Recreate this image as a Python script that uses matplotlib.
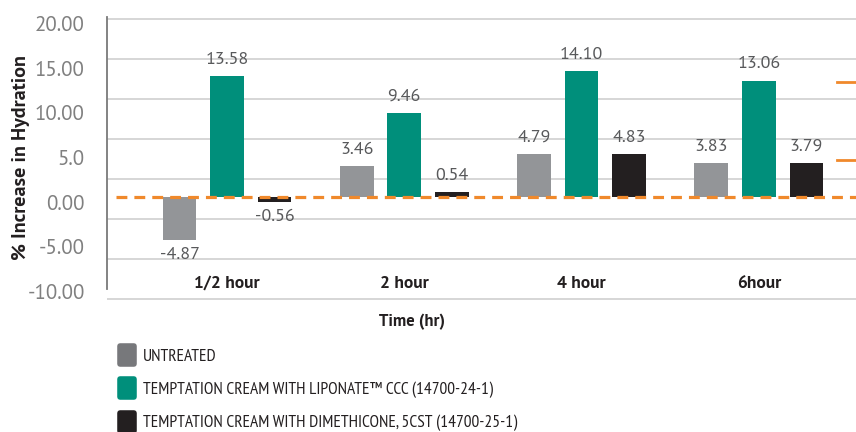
import numpy as np
import matplotlib.pyplot as plt
import matplotlib.transforms as mtransforms
from matplotlib.lines import Line2D
from matplotlib.markers import MarkerStyle
from matplotlib.path import Path

main_font = ['PT Sans', 'Open Sans', 'DejaVu Sans']
narrow_font = ['PT Sans Narrow', 'Roboto Condensed', 'Open Sans Condensed', 'DejaVu Sans']
plt.rcParams['font.family'] = main_font

# ----- data -----
time_points = ['1/2 hour', '2 hour', '4 hour', '6hour']
untreated = [-4.87, 3.46, 4.79, 3.83]
liponate = [13.58, 9.46, 14.10, 13.06]
dimethicone = [-0.56, 0.54, 4.83, 3.79]
series_names = ['UNTREATED',
                'TEMPTATION CREAM WITH LIPONATE\u2122 CCC (14700-24-1)',
                'TEMPTATION CREAM WITH DIMETHICONE, 5CST (14700-25-1)']
ytick_values = [-10, -5, 0, 5, 10, 15, 20]
ytick_labels = ['-10.00', '-5.00', '0.00', '5.0', '10.00', '15.00', '20.00']
baseline = 0
side_marks = [12.9, 4.2]

# ----- style -----
bar_colors = ['#939598', '#008f7b', '#231f20']
legend_colors = ['#77787b', '#008f7b', '#231f20']
orange = '#f0892b'
tick_gray = '#808080'
value_gray = '#58595b'
dark = '#231f20'

fig = plt.figure(figsize=(8.56, 4.32), dpi=100)
ax = fig.add_axes([107 / 856, 1 - 300 / 432, 749 / 856, 283 / 432])

x = np.arange(len(time_points))
width = 0.19
offset = 0.268

series = [untreated, liponate, dimethicone]
for i, (vals, col) in enumerate(zip(series, bar_colors)):
    bars = ax.bar(x + (i - 1) * offset, vals, width, color=col, zorder=2)
    for rect, v in zip(bars, vals):
        cx = rect.get_x() + rect.get_width() / 2
        if v >= 0:
            ax.annotate(f'{v:.2f}', xy=(cx, v), xytext=(0, 6),
                        textcoords='offset points', ha='center', va='bottom',
                        fontsize=13, color=value_gray)
        else:
            ax.annotate(f'{v:.2f}', xy=(cx, v), xytext=(0, -5),
                        textcoords='offset points', ha='center', va='top',
                        fontsize=13, color=value_gray)

# dashed reference line
ax.axhline(baseline, xmin=9 / 749, color=orange, lw=2.3,
           linestyle=(0, (3.4, 2.2)), zorder=3)

# short orange marks on the right edge
blend = mtransforms.blended_transform_factory(ax.transAxes, ax.transData)
for v in side_marks:
    ax.plot([0.975, 1.0], [v, v], color=orange, lw=2, transform=blend,
            clip_on=False, zorder=3)

ax.set_xlim(-0.677, 3.548)
ax.set_ylim(-11.57, 20.22)

# grid
ax.set_yticks(np.linspace(20.03, -11.49, 8), minor=True)
ax.grid(which='minor', axis='y', color='#cbcbcb', lw=1.1)
ax.set_axisbelow(True)

ax.set_yticks(ytick_values)
ax.set_yticklabels(ytick_labels)
ax.tick_params(axis='y', which='both', length=0)
ax.tick_params(axis='y', which='major', pad=16, labelsize=15, labelcolor=tick_gray)
shift = mtransforms.ScaledTranslation(0, -5 / 100, fig.dpi_scale_trans)
for lab in ax.get_yticklabels():
    lab.set_transform(lab.get_transform() + shift)

ax.set_xticks(x)
ax.set_xticklabels(time_points, fontweight='bold', fontsize=12.5, color=dark)
ax.tick_params(axis='x', length=0, pad=-17.5)

for side in ['top', 'right', 'bottom']:
    ax.spines[side].set_visible(False)
ax.spines['left'].set_color('#7a7a7a')
ax.spines['left'].set_linewidth(1.3)
ax.spines['left'].set_bounds(-10.34, 20.22)

ax.set_ylabel('% Increase in Hydration', fontsize=14.5, fontweight='bold', color=dark)
ax.yaxis.set_label_coords(-0.103, 0.505)

fig.text(412 / 856, 1 - 322 / 432, 'Time (hr)', ha='center', va='center',
         fontsize=12, fontweight='bold', color=dark)

# legend with rounded tall markers
tall = Path([(-0.4, -0.5), (0.4, -0.5), (0.4, 0.5), (-0.4, 0.5), (-0.4, -0.5)],
            [Path.MOVETO, Path.LINETO, Path.LINETO, Path.LINETO, Path.CLOSEPOLY])
handles = [Line2D([], [], linestyle='none', marker=MarkerStyle(tall, joinstyle='round'),
                  markersize=12.5, markeredgewidth=4, color=c)
           for c in legend_colors]
fig.legend(handles, series_names, loc='upper left',
           bbox_to_anchor=(118 / 856, 1 - 349 / 432), frameon=False,
           prop={'family': narrow_font, 'size': 12.5}, labelspacing=0.97,
           handlelength=1.0, handletextpad=0.45, borderaxespad=0, borderpad=0,
           labelcolor=dark)

fig.savefig('out.png', dpi=100)
